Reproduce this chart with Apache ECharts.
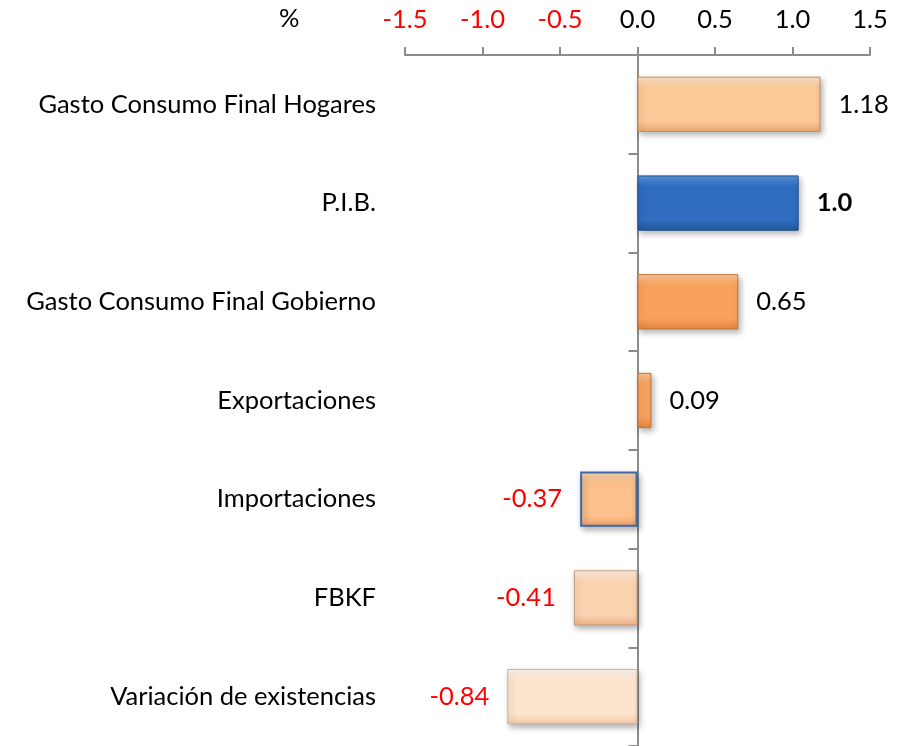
<!DOCTYPE html>
<html>
<head>
<meta charset="utf-8">
<script src="https://cdn.jsdelivr.net/npm/echarts@6/dist/echarts.min.js"></script>
<style>html,body{margin:0;padding:0;background:#fff}#c{width:898px;height:746px}</style>
</head>
<body>
<div id="c"></div>
<script>
const categories = ['Gasto Consumo Final Hogares', 'P.I.B.', 'Gasto Consumo Final Gobierno', 'Exportaciones', 'Importaciones', 'FBKF', 'Variación de existencias'];
const values = [1.18, 1.04, 0.65, 0.09, -0.37, -0.41, -0.84];
const valueLabels = ['1.18', '1.0', '0.65', '0.09', '-0.37', '-0.41', '-0.84'];
const tickLabels = ['-1.5', '-1.0', '-0.5', '0.0', '0.5', '1.0', '1.5'];
const unitLabel = '%';

// [top, mid, bottom, border]
const palette = [
  ['#fde4c9', '#fbc897', '#e6a972', '#c48f5c'],
  ['#5b93dc', '#2e6dbf', '#22589b', '#1f4f8a'],
  ['#fcc796', '#f9a25e', '#e4863c', '#c0743a'],
  ['#fcc796', '#f9a25e', '#e4863c', '#c0743a'],
  ['#fddab6', '#fbc08c', '#f0a064', '#3d6aa6'],
  ['#fff0e4', '#fcd3b1', '#ecb48a', '#c49c7c'],
  ['#fff7f0', '#fde4cd', '#f1cba8', '#cfb293']
];

const chart = echarts.init(document.getElementById('c'), null, {renderer: 'canvas'});
const FONT = 'Lato';
const FS = 25.5;

const data = values.map((v, i) => ({
  value: v,
  itemStyle: {
    color: new echarts.graphic.LinearGradient(0, 0, 0, 1, [
      {offset: 0, color: palette[i][0]},
      {offset: 0.2, color: palette[i][1]},
      {offset: 0.8, color: palette[i][1]},
      {offset: 1, color: palette[i][2]}
    ]),
    borderColor: palette[i][3],
    borderWidth: i === 4 ? 2 : 1
  },
  label: {
    show: true,
    position: v >= 0 ? 'right' : 'left',
    distance: 18,
    formatter: valueLabels[i],
    color: v < 0 ? '#ff0000' : '#000000',
    fontWeight: i === 1 ? 'bold' : 'normal',
    fontSize: FS,
    fontFamily: FONT
  }
}));

chart.setOption({
  animation: false,
  backgroundColor: '#ffffff',
  grid: {left: 405, right: 28, top: 55, bottom: 0, containLabel: false, outerBoundsMode: 'none'},
  graphic: [{
    type: 'text',
    left: 279,
    top: 6,
    style: {text: unitLabel, fontSize: FS, fontFamily: FONT, fill: '#000'}
  }],
  xAxis: {
    type: 'value',
    position: 'top',
    min: -1.5,
    max: 1.5,
    interval: 0.5,
    splitLine: {show: false},
    axisLine: {show: true, lineStyle: {color: '#8c8c8c', width: 2}},
    axisTick: {show: true, length: 8, lineStyle: {color: '#8c8c8c', width: 2}},
    axisLabel: {
      margin: 22,
      fontSize: FS,
      fontFamily: FONT,
      formatter: (v) => tickLabels[Math.round((v + 1.5) / 0.5)],
      color: (v) => (parseFloat(v) < 0 ? '#ff0000' : '#000000')
    }
  },
  yAxis: {
    type: 'category',
    inverse: true,
    data: categories,
    axisLine: {show: true, onZero: true, lineStyle: {color: '#8c8c8c', width: 2}},
    axisTick: {show: true, length: 9, lineStyle: {color: '#8c8c8c', width: 2}},
    axisLabel: {margin: 29, fontSize: FS, fontFamily: FONT, color: '#000'}
  },
  series: [{
    type: 'bar',
    data: data,
    barWidth: '56%',
    itemStyle: {
      shadowColor: 'rgba(0,0,0,0.3)',
      shadowBlur: 6,
      shadowOffsetX: 2,
      shadowOffsetY: 3
    }
  }]
});
</script>
</body>
</html>
